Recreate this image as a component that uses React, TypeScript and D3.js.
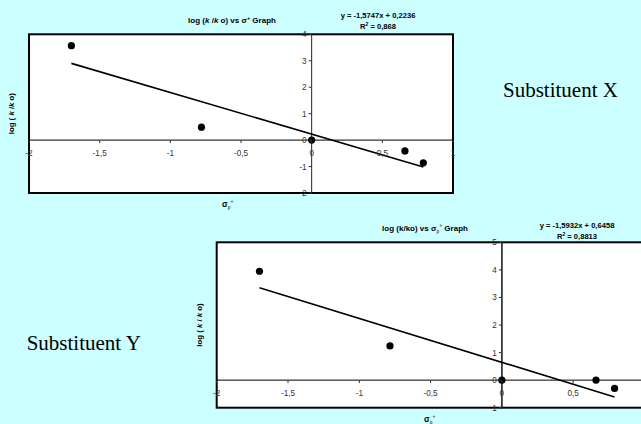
import React from "react";
import * as d3 from "d3";

// ---- Data ----
const sigmaX = [-1.7, -0.78, 0, 0.66, 0.79];
const logKX = [3.57, 0.49, 0, -0.41, -0.86];
const slopeX = -1.5747;
const interceptX = 0.2236;
const r2X = "0,868";

const sigmaY = [-1.7, -0.785, 0, 0.66, 0.79];
const logKY = [3.95, 1.24, 0, 0, -0.3];
const slopeY = -1.5932;
const interceptY = 0.6458;
const r2Y = "0,8813";

const xTicks = [-2, -1.5, -1, -0.5, 0, 0.5, 1];
const yTicksX = [-2, -1, 0, 1, 2, 3, 4];
const yTicksY = [-1, 0, 1, 2, 3, 4, 5];

const fmt = (v: number) => String(v).replace(".", ",");
const fmtCoef = (v: number) => String(Math.abs(v)).replace(".", ",");

const SANS = "'Liberation Sans', Arial, sans-serif";
const SERIF = "'Liberation Serif', 'Times New Roman', serif";
const VIEW_W = 641;

type ChartProps = {
  left: number;
  top: number;
  right: number;
  bottom: number;
  xDomain: [number, number];
  yDomain: [number, number];
  xs: number[];
  ys: number[];
  slope: number;
  intercept: number;
  r2: string;
  yTicks: number[];
  title: React.ReactNode;
  titleX: number;
  titleY: number;
  eqX: number;
  eqY: number;
  yLabel: React.ReactNode;
  xLabelX: number;
  xLabelY: number;
  axisW: number;
};

function Chart(p: ChartProps) {
  const x = d3.scaleLinear().domain(p.xDomain).range([p.left, p.right]);
  const y = d3.scaleLinear().domain(p.yDomain).range([p.bottom, p.top]);
  const xMin = d3.min(p.xs)!;
  const xMax = d3.max(p.xs)!;
  const lineGen = d3
    .line<number>()
    .x((d) => x(d))
    .y((d) => y(p.slope * d + p.intercept));
  const x0 = x(0);
  const y0 = y(0);
  const eq = `y = ${p.slope < 0 ? "-" : ""}${fmtCoef(p.slope)}x ${p.intercept < 0 ? "-" : "+"} ${fmtCoef(p.intercept)}`;
  return (
    <g>
      <rect
        x={p.left}
        y={p.top}
        width={p.right - p.left}
        height={p.bottom - p.top}
        fill="#fff"
        stroke="#000"
        strokeWidth={2}
      />
      {/* axes */}
      <line x1={p.left} x2={p.right} y1={y0} y2={y0} stroke="#000" strokeWidth={1} />
      <line x1={x0} x2={x0} y1={p.top} y2={p.bottom} stroke="#222" strokeWidth={p.axisW} />
      {/* trendline */}
      <path d={lineGen([xMin, xMax]) || ""} fill="none" stroke="#000" strokeWidth={1.6} />
      {/* points */}
      {p.xs.map((v, i) => (
        <circle key={i} cx={x(v)} cy={y(p.ys[i])} r={3.6} fill="#000" />
      ))}
      {/* x ticks */}
      {xTicks.map((t) => (
        <g key={"xt" + t}>
          <line x1={x(t)} x2={x(t)} y1={y0} y2={y0 + 3} stroke="#333" strokeWidth={1} />
          {x(t) < VIEW_W - 4 && (
            <text
              x={x(t)}
              y={y0 + 16}
              textAnchor="middle"
              fontFamily={SANS}
              fontSize={8.2}
              fill="#333"
            >
              {fmt(t)}
            </text>
          )}
        </g>
      ))}
      {/* y ticks */}
      {p.yTicks.map((t) => (
        <g key={"yt" + t}>
          <line x1={x0 - 3} x2={x0} y1={y(t)} y2={y(t)} stroke="#333" strokeWidth={1} />
          <text
            x={x0 - 5}
            y={y(t) + 3}
            textAnchor="end"
            fontFamily={SANS}
            fontSize={8.2}
            fill="#333"
          >
            {fmt(t)}
          </text>
        </g>
      ))}
      {/* title */}
      <text
        x={p.titleX}
        y={p.titleY}
        textAnchor="middle"
        fontFamily={SANS}
        fontWeight="bold"
        fontSize={8}
        fill="#000"
      >
        {p.title}
      </text>
      {/* equation */}
      <text x={p.eqX} y={p.eqY} textAnchor="middle" fontFamily={SANS} fontWeight="bold" fontSize={7.6} fill="#000">
        {eq}
      </text>
      <text x={p.eqX} y={p.eqY + 11} textAnchor="middle" fontFamily={SANS} fontWeight="bold" fontSize={7.6} fill="#000">
        R<tspan fontSize={5} dy={-3}>2</tspan>
        <tspan dy={3}>{" = " + p.r2}</tspan>
      </text>
      {/* y label */}
      <text
        transform={`translate(${p.left - 15},${(p.top + p.bottom) / 2}) rotate(-90)`}
        textAnchor="middle"
        fontFamily={SANS}
        fontWeight="bold"
        fontSize={7.8}
        fill="#000"
      >
        {p.yLabel}
      </text>
      {/* x label */}
      <text x={p.xLabelX} y={p.xLabelY} fontFamily={SANS} fontWeight="bold" fontSize={8.4} fill="#000">
        σ<tspan fontSize={4.5} dy={2} fill="#555">p</tspan>
        <tspan fontSize={5} dy={-6} fill="#555">+</tspan>
      </text>
    </g>
  );
}

export default function App() {
  return (
    <svg
      width={641}
      height={424}
      style={{ position: "absolute", left: 0, top: 0, display: "block" }}
    >
      <rect x={0} y={0} width={641} height={424} fill="#ccffff" />
      <Chart
        left={29}
        top={34.3}
        right={453}
        bottom={193}
        xDomain={[-2, 1]}
        yDomain={[-2, 4]}
        xs={sigmaX}
        ys={logKX}
        slope={slopeX}
        intercept={interceptX}
        r2={r2X}
        yTicks={yTicksX}
        title={
          <>
            {"log ("}
            <tspan fontStyle="italic">k</tspan>
            {" /"}
            <tspan fontStyle="italic">k</tspan>
            {" o) vs σ"}
            <tspan fontSize={5.5} dy={-3}>+</tspan>
            <tspan dy={3}>{" Graph"}</tspan>
          </>
        }
        titleX={232}
        titleY={22.5}
        eqX={378}
        eqY={17.5}
        yLabel={
          <>
            {"log ( "}
            <tspan fontStyle="italic">k</tspan>
            {" /"}
            <tspan fontStyle="italic">k</tspan>
            {" o)"}
          </>
        }
        xLabelX={222}
        xLabelY={207}
        axisW={1}
      />
      <Chart
        left={216.7}
        top={242.3}
        right={644.5}
        bottom={407.7}
        xDomain={[-2, 1]}
        yDomain={[-1, 5]}
        xs={sigmaY}
        ys={logKY}
        slope={slopeY}
        intercept={interceptY}
        r2={r2Y}
        yTicks={yTicksY}
        title={
          <>
            {"log (k/ko) vs σ"}
            <tspan fontSize={4.5} dy={2} fill="#555">p</tspan>
            <tspan fontSize={5} dy={-6} fill="#555">+</tspan>
            <tspan dy={4}>{" Graph"}</tspan>
          </>
        }
        titleX={425}
        titleY={230.5}
        eqX={577}
        eqY={227.5}
        yLabel={
          <>
            {"log ( "}
            <tspan fontStyle="italic">k</tspan>
            {" / "}
            <tspan fontStyle="italic">k</tspan>
            {" o)"}
          </>
        }
        xLabelX={424}
        xLabelY={422}
        axisW={1.6}
      />
      <text x={503} y={97.3} fontFamily={SERIF} fontSize={21} fill="#000">
        Substituent X
      </text>
      <text x={26.7} y={350} fontFamily={SERIF} fontSize={21} fill="#000">
        Substituent Y
      </text>
    </svg>
  );
}
